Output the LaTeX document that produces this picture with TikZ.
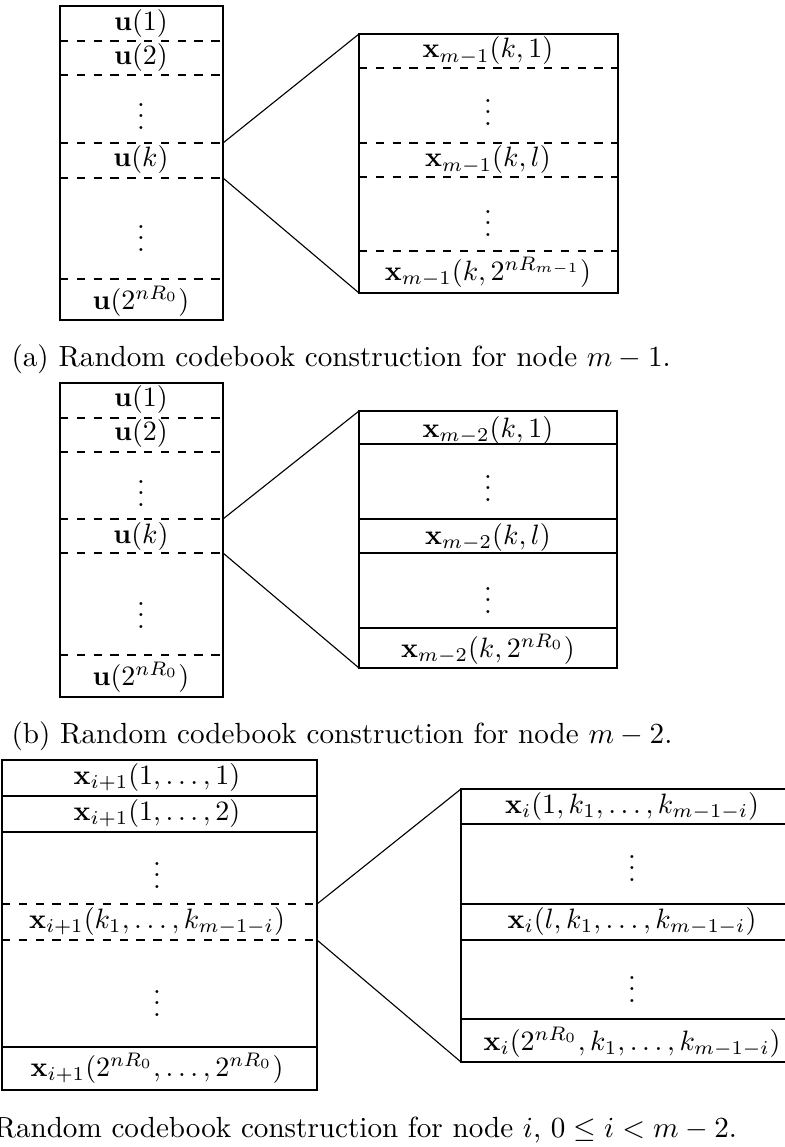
\documentclass[tikz,border=0pt]{standalone}
\usepackage{amsmath}
\usepackage{amssymb}
\begin{document}
\begin{tikzpicture}[x=0.357pt,y=-0.357pt]
\tikzstyle{every node}+=[inner sep=0pt]
\tikzstyle{box}=[black,line width=0.9pt]
\tikzstyle{row}=[black,dashed,line width=0.4pt]
\tikzstyle{solidrow}=[black,line width=0.4pt]
\tikzstyle{link}=[black,line width=0.4pt]
\tikzstyle{captext}=[anchor=base west,scale=1.04]
\useasboundingbox (0,0) rectangle (784,1147);
\draw [box] (60,6) rectangle (223,320);
\draw [row] (60,41) -- (223,41);
\draw [row] (60,75) -- (223,75);
\draw [row] (60,143) -- (223,143);
\draw [row] (60,178) -- (223,178);
\draw [row] (60,279) -- (223,279);
\node (ua1) at (141,24) {$\mathbf{u}(1)$};
\node (ua2) at (141,58) {$\mathbf{u}(2)$};
\node (uad1) at (141,108) {$\vdots$};
\node (uak) at (141,160) {$\mathbf{u}(k)$};
\node (uad2) at (141,230) {$\vdots$};
\node (uan) at (141,301) {$\mathbf{u}(2^{nR_0})$};
\draw [box] (359,34) rectangle (618,293);
\draw [row] (359,68) -- (618,68);
\draw [row] (359,143) -- (618,143);
\draw [row] (359,177) -- (618,177);
\draw [row] (359,251) -- (618,251);
\node (xa1) at (488,51) {$\mathbf{x}_{m-1}(k,1)$};
\node (xad1) at (488,104) {$\vdots$};
\node (xal) at (488,160) {$\mathbf{x}_{m-1}(k,l)$};
\node (xad2) at (488,215) {$\vdots$};
\node (xan) at (488,272) {$\mathbf{x}_{m-1}(k,2^{nR_{m-1}})$};
\coordinate (aup) at (223,143);
\coordinate (alo) at (223,178);
\coordinate (bup) at (359,34);
\coordinate (blo) at (359,293);
\draw [link] (aup) -- (bup);
\draw [link] (alo) -- (blo);
\node [captext] (capa) at (11,366) {(a) Random codebook construction for node $m-1$.};
\draw [box] (60,383) rectangle (223,697);
\draw [row] (60,418) -- (223,418);
\draw [row] (60,452) -- (223,452);
\draw [row] (60,519) -- (223,519);
\draw [row] (60,553) -- (223,553);
\draw [row] (60,655) -- (223,655);
\node (ub1) at (141,399) {$\mathbf{u}(1)$};
\node (ub2) at (141,433) {$\mathbf{u}(2)$};
\node (ubd1) at (141,485) {$\vdots$};
\node (ubk) at (141,536) {$\mathbf{u}(k)$};
\node (ubd2) at (141,607) {$\vdots$};
\node (ubn) at (141,677) {$\mathbf{u}(2^{nR_0})$};
\draw [box] (359,411) rectangle (617,668);
\draw [solidrow] (359,444) -- (617,444);
\draw [solidrow] (359,519) -- (617,519);
\draw [solidrow] (359,553) -- (617,553);
\draw [solidrow] (359,628) -- (617,628);
\node (xb1) at (488,430) {$\mathbf{x}_{m-2}(k,1)$};
\node (xbd1) at (488,480) {$\vdots$};
\node (xbl) at (488,537) {$\mathbf{x}_{m-2}(k,l)$};
\node (xbd2) at (488,592) {$\vdots$};
\node (xbn) at (488,649) {$\mathbf{x}_{m-2}(k,2^{nR_0})$};
\coordinate (cup) at (223,519);
\coordinate (clo) at (223,553);
\coordinate (dup) at (359,411);
\coordinate (dlo) at (359,668);
\draw [link] (cup) -- (dup);
\draw [link] (clo) -- (dlo);
\node [captext] (capb) at (11,743) {(b) Random codebook construction for node $m-2$.};
\draw [box] (2,760) rectangle (317,1090);
\draw [solidrow] (2,796) -- (317,796);
\draw [solidrow] (2,832) -- (317,832);
\draw [row] (2,904) -- (317,904);
\draw [row] (2,940) -- (317,940);
\draw [solidrow] (2,1047) -- (317,1047);
\node (xc1) at (157,777) {$\mathbf{x}_{i+1}(1,\ldots,1)$};
\node (xc2) at (157,813) {$\mathbf{x}_{i+1}(1,\ldots,2)$};
\node (xcd1) at (157,867) {$\vdots$};
\node (xck) at (157,921) {$\mathbf{x}_{i+1}(k_1,\ldots,k_{m-1-i})$};
\node (xcd2) at (157,995) {$\vdots$};
\node (xcn) at (157,1068) {$\mathbf{x}_{i+1}(2^{nR_0},\ldots,2^{nR_0})$};
\draw [box] (461,789) rectangle (803,1062);
\draw [solidrow] (461,824) -- (803,824);
\draw [solidrow] (461,904) -- (803,904);
\draw [solidrow] (461,940) -- (803,940);
\draw [solidrow] (461,1019) -- (803,1019);
\node (xd1) at (632,806) {$\mathbf{x}_{i}(1,k_1,\ldots,k_{m-1-i})$};
\node (xdd1) at (632,860) {$\vdots$};
\node (xdl) at (632,921) {$\mathbf{x}_{i}(l,k_1,\ldots,k_{m-1-i})$};
\node (xdd2) at (632,981) {$\vdots$};
\node (xdn) at (632,1042) {$\mathbf{x}_{i}(2^{nR_0},k_1,\ldots,k_{m-1-i})$};
\coordinate (eup) at (317,904);
\coordinate (elo) at (317,940);
\coordinate (fup) at (461,789);
\coordinate (flo) at (461,1062);
\draw [link] (eup) -- (fup);
\draw [link] (elo) -- (flo);
\node [captext] (capc) at (-6,1137) {Random codebook construction for node $i$, $0\leq i<m-2$.};
\end{tikzpicture}
\end{document}
